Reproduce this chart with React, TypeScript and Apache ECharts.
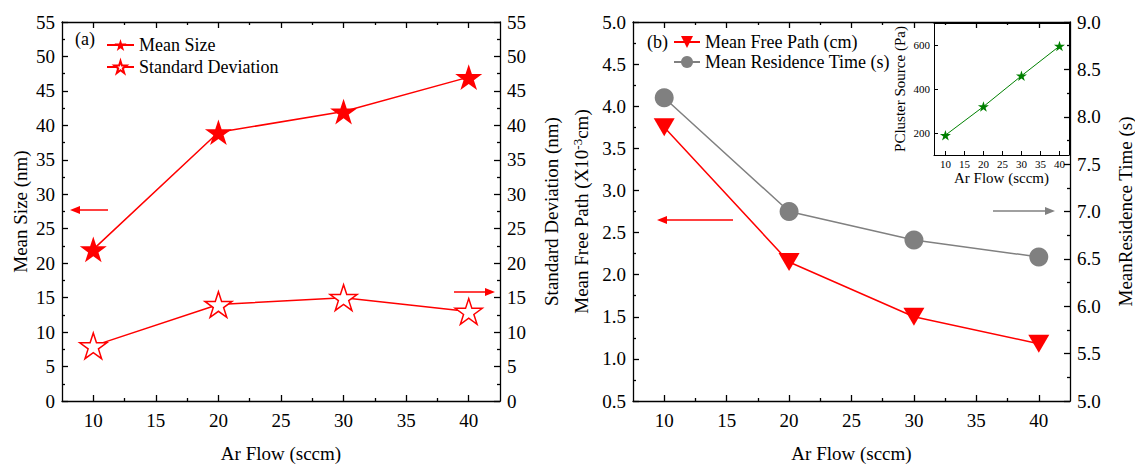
import React, { useEffect, useRef } from "react";
import * as echarts from "echarts";

// ---- data ----
const arFlow = [10, 20, 30, 40];
const meanSize = [22, 39, 42, 47];
const stdDeviation = [8, 14, 15, 13];
const meanFreePath = [3.75, 2.15, 1.5, 1.18];
const residenceTime = [8.2, 7.0, 6.7, 6.52];
const clusterPressure = [190, 320, 460, 595];
const xMajorTicks = [10, 15, 20, 25, 30, 35, 40];
const xMinorTicks = [12.5, 17.5, 22.5, 27.5, 32.5, 37.5];
const insetYTicks = [200, 400, 600];

const FONT = "Liberation Serif";
const STAR =
  "path://M50 0L61.2 34.5L97.6 34.5L68.2 55.9L79.4 90.5L50 69.1L20.6 90.5L31.8 55.9L2.4 34.5L38.8 34.5Z";
const TRI_DOWN = "path://M0 0L20 0L10 17Z";

const pts = (ys: number[]) => arFlow.map((x, i) => [x, ys[i]]);

const lineStyleAxis = { color: "#000", width: 1.3 };
const txt = { color: "#000", fontFamily: FONT };

function mainXAxes(grid: number) {
  return [
    {
      gridIndex: grid,
      type: "value",
      position: "bottom",
      min: 7.5,
      max: 42.5,
      axisLine: { show: true, onZero: false, lineStyle: lineStyleAxis },
      axisTick: { show: true, inside: true, length: 6, customValues: xMajorTicks, lineStyle: lineStyleAxis },
      axisLabel: { ...txt, fontSize: 19, margin: 10, customValues: xMajorTicks },
      splitLine: { show: false },
      name: "Ar Flow (sccm)",
      nameLocation: "middle",
      nameGap: 43,
      nameMoveOverlap: false,
      nameTextStyle: { ...txt, fontSize: 19, verticalAlign: "top", lineHeight: 19 },
    },
    {
      gridIndex: grid,
      type: "value",
      position: "bottom",
      min: 7.5,
      max: 42.5,
      axisLine: { show: false, onZero: false },
      axisTick: { show: true, inside: true, length: 3, customValues: xMinorTicks, lineStyle: lineStyleAxis },
      axisLabel: { show: false },
      splitLine: { show: false },
    },
    {
      gridIndex: grid,
      type: "value",
      position: "top",
      min: 7.5,
      max: 42.5,
      axisLine: { show: true, onZero: false, lineStyle: lineStyleAxis },
      axisTick: { show: true, inside: true, length: 6, customValues: xMajorTicks, lineStyle: lineStyleAxis },
      axisLabel: { show: false },
      splitLine: { show: false },
    },
    {
      gridIndex: grid,
      type: "value",
      position: "top",
      min: 7.5,
      max: 42.5,
      axisLine: { show: false, onZero: false },
      axisTick: { show: true, inside: true, length: 3, customValues: xMinorTicks, lineStyle: lineStyleAxis },
      axisLabel: { show: false },
      splitLine: { show: false },
    },
  ];
}

function yAxis(grid: number, position: string, min: number, max: number, interval: number, name: string, nameGap: number, decimals: number, rich?: any) {
  return {
    gridIndex: grid,
    type: "value",
    position,
    min,
    max,
    interval,
    axisLine: { show: true, onZero: false, lineStyle: lineStyleAxis },
    axisTick: { show: true, inside: true, length: 6, lineStyle: lineStyleAxis },
    minorTick: { show: true, splitNumber: 2, length: 3, lineStyle: lineStyleAxis },
    axisLabel: { ...txt, fontSize: 19, margin: 7, formatter: (v: number) => v.toFixed(decimals) },
    splitLine: { show: false },
    minorSplitLine: { show: false },
    name,
    nameLocation: "middle",
    nameRotate: 90,
    nameGap,
    nameTextStyle: { ...txt, fontSize: 19, rich },
  };
}

function arrow(x1: number, x2: number, y: number, color: string) {
  const dir = x2 > x1 ? 1 : -1;
  const head = 10;
  return [
    { type: "line", shape: { x1, y1: y, x2: x2 - dir * head, y2: y }, style: { stroke: color, lineWidth: 1.5 } },
    {
      type: "polygon",
      shape: { points: [[x2, y], [x2 - dir * head, y - 4], [x2 - dir * head, y + 4]] },
      style: { fill: color },
    },
  ];
}

export default function App() {
  const ref = useRef<HTMLDivElement>(null);
  useEffect(() => {
    if (!ref.current) return;
    const chart = echarts.init(ref.current, null, { renderer: "svg" });
    const option: any = {
      animation: false,
      backgroundColor: "#fff",
      grid: [
        { left: 62, right: 635, top: 22, bottom: 65, outerBoundsMode: "none", containLabel: false },
        { left: 633, right: 65, top: 22, bottom: 65, outerBoundsMode: "none", containLabel: false },
        { left: 934, right: 66, top: 23, bottom: 311, outerBoundsMode: "none", containLabel: false },
      ],
      xAxis: [
        ...mainXAxes(0),
        ...mainXAxes(1),
        {
          gridIndex: 2,
          type: "value",
          position: "bottom",
          min: 7,
          max: 42.5,
          axisLine: { show: true, onZero: false, lineStyle: { color: "#000", width: 1 } },
          axisTick: { show: true, inside: true, length: 4, customValues: xMajorTicks, lineStyle: { color: "#000" } },
          axisLabel: { ...txt, fontSize: 11, margin: 3, customValues: xMajorTicks },
          splitLine: { show: false },
          name: "Ar Flow (sccm)",
          nameLocation: "middle",
          nameGap: 15,
          nameTextStyle: { ...txt, fontSize: 15 },
        },
        {
          gridIndex: 2,
          type: "value",
          position: "top",
          min: 7,
          max: 42.5,
          axisLine: { show: true, onZero: false, lineStyle: { color: "#000", width: 1 } },
          axisTick: { show: false },
          axisLabel: { show: false },
          splitLine: { show: false },
        },
      ],
      yAxis: [
        yAxis(0, "left", 0, 55, 5, "Mean Size (nm)", 32, 0),
        yAxis(0, "right", 0, 55, 5, "Standard Deviation (nm)", 42, 0),
        yAxis(1, "left", 0.5, 5, 0.5, "Mean Free Path (X10{sup|-3}cm)", 41, 1, {
          sup: { fontSize: 13, fontFamily: FONT, color: "#000", verticalAlign: "top", padding: [0, 0, 8, 0] },
        }),
        yAxis(1, "right", 5, 9, 0.5, "MeanResidence Time (s)", 46, 1),
        {
          gridIndex: 2,
          type: "value",
          position: "left",
          min: 100,
          max: 700,
          axisLine: { show: true, onZero: false, lineStyle: { color: "#000", width: 1 } },
          axisTick: { show: true, inside: true, length: 4, customValues: insetYTicks, lineStyle: { color: "#000" } },
          axisLabel: { ...txt, fontSize: 11, margin: 4, customValues: insetYTicks },
          splitLine: { show: false },
          name: "PCluster Source (Pa)",
          nameLocation: "middle",
          nameRotate: 90,
          nameGap: 27,
          nameTextStyle: { ...txt, fontSize: 15 },
        },
        {
          gridIndex: 2,
          type: "value",
          position: "right",
          min: 100,
          max: 700,
          axisLine: { show: true, onZero: false, lineStyle: { color: "#000", width: 1 } },
          axisTick: { show: false },
          axisLabel: { show: false },
          splitLine: { show: false },
        },
      ],
      legend: [
        {
          data: ["Mean Size", "Standard Deviation"],
          orient: "vertical",
          left: 106,
          top: 36,
          padding: 0,
          itemWidth: 27,
          itemHeight: 15,
          itemGap: 4,
          textStyle: { ...txt, fontSize: 18 },
        },
        {
          data: ["Mean Free Path (cm)", "Mean Residence Time (s)"],
          orient: "vertical",
          left: 673,
          top: 33,
          padding: 0,
          itemWidth: 26,
          itemHeight: 15,
          itemGap: 2,
          textStyle: { ...txt, fontSize: 18 },
        },
      ],
      series: [
        {
          name: "Mean Size",
          type: "line",
          xAxisIndex: 0,
          yAxisIndex: 0,
          data: pts(meanSize),
          symbol: STAR,
          symbolKeepAspect: true,
          symbolSize: 27,
          lineStyle: { color: "#ff0000", width: 1.5 },
          itemStyle: { color: "#ff0000" },
        },
        {
          name: "Standard Deviation",
          type: "line",
          xAxisIndex: 0,
          yAxisIndex: 1,
          data: pts(stdDeviation),
          symbol: STAR,
          symbolKeepAspect: true,
          symbolSize: 27,
          lineStyle: { color: "#ff0000", width: 1.5 },
          itemStyle: { color: "#fff", borderColor: "#ff0000", borderWidth: 1.5 },
        },
        {
          name: "Mean Free Path (cm)",
          type: "line",
          xAxisIndex: 4,
          yAxisIndex: 2,
          data: pts(meanFreePath),
          symbol: TRI_DOWN,
          symbolKeepAspect: true,
          symbolSize: 21,
          lineStyle: { color: "#ff0000", width: 1.5 },
          itemStyle: { color: "#ff0000" },
        },
        {
          name: "Mean Residence Time (s)",
          type: "line",
          xAxisIndex: 4,
          yAxisIndex: 3,
          data: pts(residenceTime),
          symbol: "circle",
          symbolSize: 19,
          lineStyle: { color: "#808080", width: 1.5 },
          itemStyle: { color: "#808080" },
        },
        {
          name: "PCluster Source",
          type: "line",
          xAxisIndex: 8,
          yAxisIndex: 4,
          data: pts(clusterPressure),
          symbol: STAR,
          symbolKeepAspect: true,
          symbolSize: 11,
          lineStyle: { color: "#008000", width: 1 },
          itemStyle: { color: "#008000" },
        },
      ],
      graphic: [
        { type: "text", left: 75, top: 30, style: { text: "(a)", ...txt, fill: "#000", fontSize: 18 } },
        { type: "text", left: 647, top: 33, style: { text: "(b)", ...txt, fill: "#000", fontSize: 18 } },
        ...arrow(108, 70, 210, "#ff0000"),
        ...arrow(454, 495, 292, "#ff0000"),
        ...arrow(733, 657, 220, "#ff0000"),
        ...arrow(993, 1055, 211, "#808080"),
      ],
    };
    chart.setOption(option);
    return () => chart.dispose();
  }, []);
  return (
    <div
      ref={ref}
      style={{ position: "fixed", left: 0, top: 0, width: 1135, height: 466, background: "#fff" }}
    />
  );
}
